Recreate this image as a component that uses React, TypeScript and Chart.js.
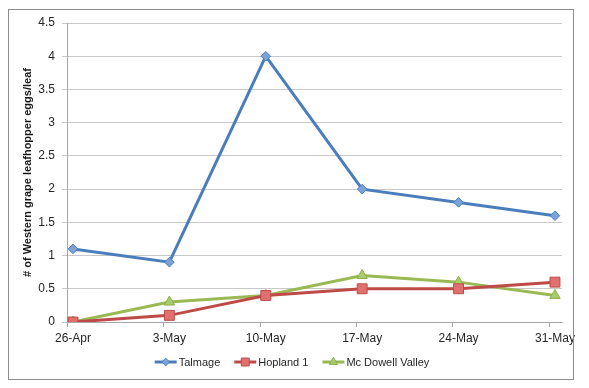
import React, { useEffect, useRef } from "react";
import { Chart, registerables } from "chart.js";

Chart.register(...registerables);

const categories = ["26-Apr", "3-May", "10-May", "17-May", "24-May", "31-May"];
const talmage = [1.1, 0.9, 4.0, 2.0, 1.8, 1.6];
const hopland1 = [0, 0.1, 0.4, 0.5, 0.5, 0.6];
const mcDowellValley = [0, 0.3, 0.4, 0.7, 0.6, 0.4];
const seriesNames = ["Talmage", "Hopland 1", "Mc Dowell Valley"];
const yTickValues = [0, 0.5, 1, 1.5, 2, 2.5, 3, 3.5, 4, 4.5];
const yTitle = "# of Western grape leafhopper eggs/leaf";

const FONT = "'Liberation Sans', Arial, sans-serif";

const styles = [
  { line: "#4A7EBB", fill: "#7BA3D8", edge: "#4A7EBB", shape: "diamond", r: 4.8 },
  { line: "#BE4B48", fill: "#E0706D", edge: "#BE4B48", shape: "square", r: 7 },
  { line: "#98B954", fill: "#A9CB6A", edge: "#8DB04A", shape: "triangle", r: 6 },
];

function drawMarker(ctx: CanvasRenderingContext2D, shape: string, x: number, y: number, r: number, fill: string, edge: string) {
  ctx.beginPath();
  if (shape === "diamond") {
    ctx.moveTo(x, y - r);
    ctx.lineTo(x + r, y);
    ctx.lineTo(x, y + r);
    ctx.lineTo(x - r, y);
    ctx.closePath();
  } else if (shape === "square") {
    const s = r * Math.SQRT1_2;
    ctx.rect(x - s, y - s, 2 * s, 2 * s);
  } else {
    const xo = Math.cos(Math.PI / 6) * r;
    ctx.moveTo(x, y - r);
    ctx.lineTo(x + xo, y + r / 2);
    ctx.lineTo(x - xo, y + r / 2);
    ctx.closePath();
  }
  ctx.fillStyle = fill;
  ctx.fill();
  ctx.lineWidth = 1;
  ctx.strokeStyle = edge;
  ctx.stroke();
}

const decorPlugin = {
  id: "decor",
  afterDraw(chart: any) {
    const ctx: CanvasRenderingContext2D = chart.ctx;
    const area = chart.chartArea;
    const xs = chart.scales.x;
    ctx.save();
    // outer frame
    ctx.strokeStyle = "#8C8C8C";
    ctx.lineWidth = 1;
    ctx.strokeRect(8.5, 9.5, 565, 370);
    // x-axis tick marks (slightly left of the categories, as in the original)
    ctx.strokeStyle = "#A6A6A6";
    categories.forEach((_, i) => {
      const px = Math.round(xs.getPixelForValue(i - 0.065)) + 0.5;
      ctx.beginPath();
      ctx.moveTo(px, area.bottom);
      ctx.lineTo(px, area.bottom + 5);
      ctx.stroke();
    });
    // legend
    ctx.font = `11px ${FONT}`;
    ctx.textBaseline = "middle";
    const lineLen = 22;
    const gapText = 2;
    const gapItem = 14;
    const widths = seriesNames.map((n) => ctx.measureText(n).width);
    const total = widths.reduce((a, w) => a + lineLen + gapText + w, 0) + gapItem * (seriesNames.length - 1);
    let x = 292 - total / 2;
    const y = 362;
    seriesNames.forEach((name, i) => {
      const st = styles[i];
      ctx.strokeStyle = st.line;
      ctx.lineWidth = 3;
      ctx.lineCap = "butt";
      ctx.beginPath();
      ctx.moveTo(x, y);
      ctx.lineTo(x + lineLen, y);
      ctx.stroke();
      drawMarker(ctx, st.shape, x + lineLen / 2, y, st.r * 0.8, st.fill, st.edge);
      ctx.fillStyle = "#262626";
      ctx.textAlign = "left";
      ctx.fillText(name, x + lineLen + gapText, y + 0.5);
      x += lineLen + gapText + widths[i] + gapItem;
    });
    ctx.restore();
  },
};

const seriesData = [talmage, hopland1, mcDowellValley];

export default function App() {
  const ref = useRef<HTMLCanvasElement | null>(null);
  useEffect(() => {
    if (!ref.current) return;
    const chart = new Chart(ref.current, {
      type: "line",
      data: {
        datasets: seriesData.map((vals, si) => ({
          label: seriesNames[si],
          data: vals.map((v, i) => ({ x: i, y: v })),
          borderColor: styles[si].line,
          borderWidth: 3,
          backgroundColor: styles[si].fill,
          pointBackgroundColor: styles[si].fill,
          pointBorderColor: styles[si].edge,
          pointBorderWidth: 1,
          pointStyle: styles[si].shape === "diamond" ? "rectRot" : styles[si].shape === "square" ? "rect" : "triangle",
          pointRadius: styles[si].r,
          tension: 0,
          fill: false,
        })),
      },
      options: {
        animation: false,
        responsive: false,
        layout: { padding: { top: 23, right: 27, bottom: 0, left: 0 } },
        plugins: { legend: { display: false }, tooltip: { enabled: false } },
        scales: {
          x: {
            type: "linear",
            min: -0.062,
            max: 5.073,
            afterBuildTicks: (s: any) => {
              s.ticks = categories.map((_, i) => ({ value: i }));
            },
            afterFit: (s: any) => {
              s.height = 66;
            },
            ticks: {
              autoSkip: false,
              maxRotation: 0,
              padding: 9,
              color: "#262626",
              font: { family: FONT, size: 12 },
              callback: (v: any) => (Number.isInteger(v) ? categories[v] : ""),
            },
            grid: { drawOnChartArea: false, drawTicks: false },
            border: { display: true, color: "#A6A6A6" },
          },
          y: {
            type: "linear",
            min: 0,
            max: 4.5,
            afterBuildTicks: (s: any) => {
              s.ticks = yTickValues.map((v) => ({ value: v }));
            },
            afterFit: (s: any) => {
              s.width = 67;
            },
            ticks: {
              padding: 7,
              color: "#262626",
              font: { family: FONT, size: 12 },
              callback: (v: any) => String(v),
            },
            grid: { color: "#C8C8C8", tickLength: 5, lineWidth: 1 },
            border: { display: true, color: "#A6A6A6" },
            title: {
              display: true,
              text: yTitle,
              color: "#1a1a1a",
              font: { family: FONT, size: 11, weight: "bold" },
              padding: { top: 21, bottom: 0 },
            },
          },
        },
      },
      plugins: [decorPlugin],
    } as any);
    return () => chart.destroy();
  }, []);
  return (
    <div style={{ position: "absolute", left: 0, top: 0, width: 589, height: 388, background: "#fff" }}>
      <canvas ref={ref} width={589} height={388} style={{ display: "block" }} />
    </div>
  );
}
